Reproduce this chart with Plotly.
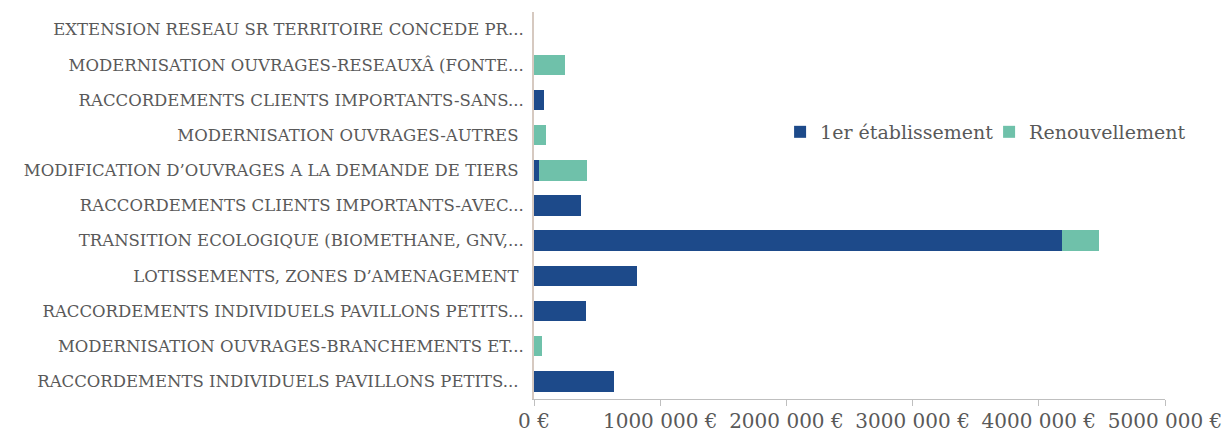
import plotly.graph_objects as go

# Work categories, listed top to bottom
categories = [
    "EXTENSION RESEAU SR TERRITOIRE CONCEDE PR...",
    "MODERNISATION OUVRAGES-RESEAUXÂ (FONTE...",
    "RACCORDEMENTS CLIENTS IMPORTANTS-SANS...",
    "MODERNISATION OUVRAGES-AUTRES ",
    "MODIFICATION D’OUVRAGES A LA DEMANDE DE TIERS ",
    "RACCORDEMENTS CLIENTS IMPORTANTS-AVEC...",
    "TRANSITION ECOLOGIQUE (BIOMETHANE, GNV,...",
    "LOTISSEMENTS, ZONES D’AMENAGEMENT ",
    "RACCORDEMENTS INDIVIDUELS PAVILLONS PETITS...",
    "MODERNISATION OUVRAGES-BRANCHEMENTS ET...",
    "RACCORDEMENTS INDIVIDUELS PAVILLONS PETITS... ",
]

premier_etablissement = [0, 0, 80000, 0, 40000, 373000, 4180000, 818000, 413000, 0, 635000]
renouvellement = [0, 245000, 0, 95000, 380000, 0, 295000, 0, 0, 63000, 0]

tick_values = [0, 1000000, 2000000, 3000000, 4000000, 5000000]
tick_labels = ["0 €", "1000 000 €", "2000 000 €", "3000 000 €", "4000 000 €", "5000 000 €"]

BLUE = "#1d4a8a"
TEAL = "#6fc1aa"
TEXT = "#595959"
FONT = "DejaVu Serif"

fig = go.Figure()
fig.add_trace(go.Bar(
    y=categories, x=premier_etablissement, orientation="h",
    name="1er établissement", marker=dict(color=BLUE, line=dict(width=0)),
))
fig.add_trace(go.Bar(
    y=categories, x=renouvellement, orientation="h",
    name="Renouvellement", marker=dict(color=TEAL, line=dict(width=0)),
))

fig.update_layout(
    barmode="stack",
    bargap=0.42,
    width=1227, height=437,
    margin=dict(l=534, r=62, t=12, b=38),
    paper_bgcolor="white",
    plot_bgcolor="white",
    font=dict(family=FONT, size=16, color=TEXT),
    showlegend=True,
    legend=dict(
        orientation="h", traceorder="normal",
        x=0.39, y=0.69, xanchor="left", yanchor="middle",
        font=dict(family=FONT, size=19, color=TEXT),
        bgcolor="rgba(0,0,0,0)", itemwidth=30,
        entrywidth=164, entrywidthmode="pixels",
    ),
)

fig.update_xaxes(
    range=[0, 5000000],
    tickvals=tick_values, ticktext=tick_labels,
    tickangle=0,
    showgrid=False, zeroline=False,
    showline=True, linecolor="#bfbfbf", linewidth=1,
    ticks="outside", ticklen=6, tickcolor="#bfbfbf",
    tickfont=dict(family=FONT, size=20, color=TEXT),
    ticklabelstandoff=-2, automargin=False,
)
fig.update_yaxes(
    autorange="reversed",
    showgrid=False, zeroline=False,
    showline=True, linecolor="#d6c9c0", linewidth=2,
    ticks="", ticklabelstandoff=5, automargin=False,
    tickfont=dict(family=FONT, size=16.5, color=TEXT),
)

fig.write_html("out.html")
